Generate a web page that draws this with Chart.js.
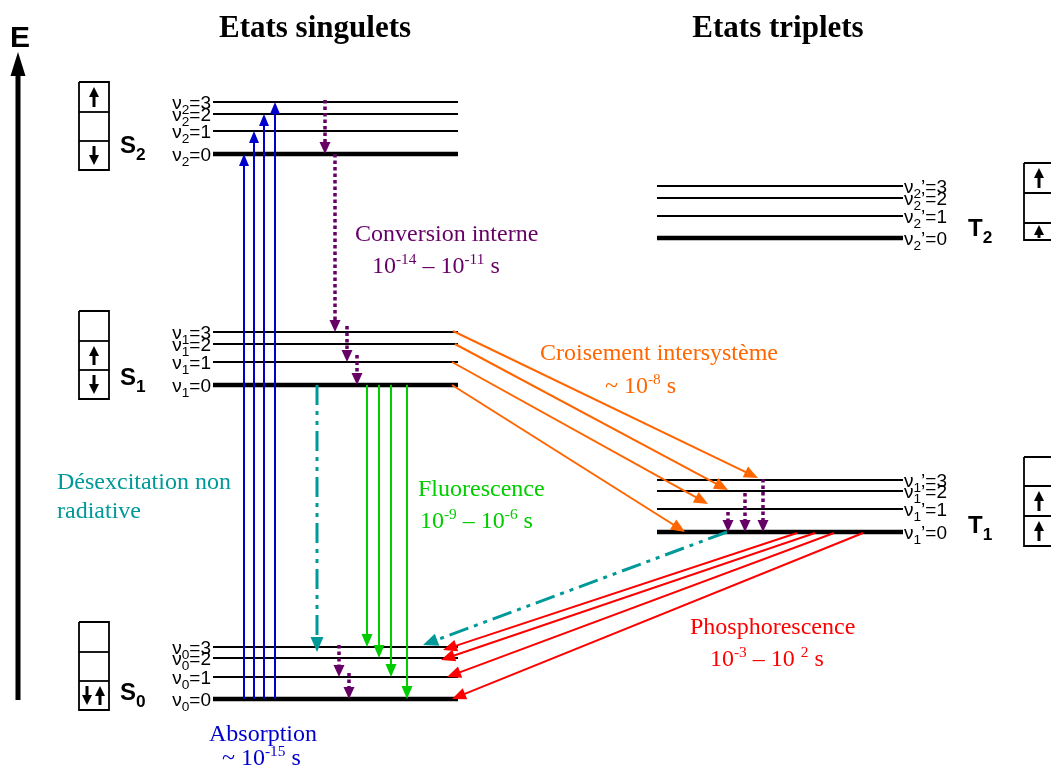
<!DOCTYPE html>
<html>
<head>
<meta charset="utf-8">
<script src="https://cdn.jsdelivr.net/npm/chart.js@4/dist/chart.umd.min.js"></script>
<style>
html, body { margin: 0; padding: 0; background: #fff; }
#wrap { width: 1051px; height: 771px; position: relative; }
</style>
</head>
<body>
<div id="wrap"><canvas id="jablonski"></canvas></div>
<script>
// energy scale: arbitrary units, 0 at bottom of picture
// levels are v = 0, 1, 2, 3
const singletX = [213, 458]
const tripletX = [657, 903]
const levelsS0 = [72, 94, 113, 124]
const levelsS1 = [386, 409, 427, 439]
const levelsS2 = [617, 640, 657, 669]
const levelsT1 = [239, 262, 280, 291]
const levelsT2 = [533, 555, 573, 585]

// S0 v=0 -> S2 v=0..3
const absorptionX = [244, 254, 264, 275]
// S1 v=0 -> S0 v=0..3
const fluorescenceX = [407, 391, 379, 367]
// internal conversion: x, from, to
const internalConv = [
	[325, 671, 617], [335, 617, 439], [347, 445, 409], [357, 416, 386],
	[339, 126, 94], [349, 98, 72],
	[728, 259, 239], [745, 278, 239], [763, 292, 239],
]
// intersystem crossing S1 -> T1
const iscFrom = [[453, 440], [455, 427], [452, 409], [452, 386]]
const iscTo = [[758, 293], [728, 281], [708, 267], [685, 239]]
// phosphorescence T1 v=0 -> S0
const phosFromX = [797, 815, 834, 863]
const phosTo = [[443, 121], [441, 111], [447, 94], [452, 72]]
// non radiative deexcitation
const nonRadFrom = [[317, 386], [727, 239]]
const nonRadTo = [[317, 119], [423, 126]]

// electron boxes: x range, cell edges (top -> bottom), spins per cell
const boxes = [
	{ x: [79, 109], edges: [689, 659, 630, 601], spins: ['up', '', 'down'] },
	{ x: [79, 109], edges: [460, 430, 401, 372], spins: ['', 'up', 'down'] },
	{ x: [79, 109], edges: [149, 119, 90, 61], spins: ['', '', 'updown'] },
	{ x: [1024, 1070], edges: [608, 578, 548, 531], spins: ['up', '', 'up'] },
	{ x: [1024, 1070], edges: [314, 285, 255, 225], spins: ['', 'up', 'up'] },
]

const C_BLUE = '#0000cc'
const C_PURPLE = '#660066'
const C_ORANGE = '#ff6600'
const C_GREEN = '#00cc00'
const C_RED = '#ff0000'
const C_TEAL = '#009999'
const SERIF = '"Liberation Serif", "Times New Roman", serif'
const SANS = '"Liberation Sans", Arial, sans-serif'

function line(pts, color, width, extra) {
	return Object.assign({
		data: pts.map(p => ({ x: p[0], y: p[1] })),
		showLine: true,
		borderColor: color,
		backgroundColor: color,
		borderWidth: width,
		pointRadius: 0,
		pointHoverRadius: 0,
		fill: false,
		tension: 0,
	}, extra || {})
}

const datasets = []

// energy axis
datasets.push(line([[18, 71], [18, 719]], '#000', 5, { head: [24, 15] }))

// transitions
absorptionX.forEach((x, i) => {
	datasets.push(line([[x, levelsS0[0]], [x, levelsS2[i]]], C_BLUE, 2, { head: [12, 10] }))
})
fluorescenceX.forEach((x, i) => {
	datasets.push(line([[x, levelsS1[0]], [x, levelsS0[i]]], C_GREEN, 2, { head: [13, 11] }))
})
internalConv.forEach(t => {
	datasets.push(line([[t[0], t[1]], [t[0], t[2]]], C_PURPLE, 3.5, { borderDash: [3.5, 3], head: [12, 11] }))
})
iscFrom.forEach((p, i) => {
	datasets.push(line([p, iscTo[i]], C_ORANGE, 2, { head: [14, 12] }))
})
phosFromX.forEach((x, i) => {
	datasets.push(line([[x, levelsT1[0] - 1], phosTo[i]], C_RED, 2, { head: [14, 12] }))
})
nonRadFrom.forEach((p, i) => {
	datasets.push(line([p, nonRadTo[i]], C_TEAL, 3, { borderDash: [20, 6, 4, 6, 4, 6], head: [15, 13] }))
})

// electron boxes
boxes.forEach(b => {
	const [x0, x1] = b.x
	const top = b.edges[0], bot = b.edges[b.edges.length - 1]
	datasets.push(line([[x0, top], [x1, top], [x1, bot], [x0, bot], [x0, top]], '#000', 1.8, { order: 5 }))
	b.edges.slice(1, -1).forEach(e => datasets.push(line([[x0, e], [x1, e]], '#000', 1.8, { order: 5 })))
	const cx = x0 + 15
	b.spins.forEach((s, k) => {
		const m = Math.min(5, (b.edges[k] - b.edges[k + 1] - 13) / 2)
		const hi = b.edges[k] - m, lo = b.edges[k + 1] + m
		const head = { head: [10, 10] }
		if (s === 'up') datasets.push(line([[cx, lo], [cx, hi]], '#000', 3, head))
		if (s === 'down') datasets.push(line([[cx, hi], [cx, lo]], '#000', 3, head))
		if (s === 'updown') {
			datasets.push(line([[cx - 7, hi], [cx - 7, lo]], '#000', 3, head))
			datasets.push(line([[cx + 6, lo], [cx + 6, hi]], '#000', 3, head))
		}
	})
})

// energy levels (drawn underneath)
const levelSets = [
	{ lv: levelsS2, x: singletX, n: '2', prime: '' },
	{ lv: levelsS1, x: singletX, n: '1', prime: '' },
	{ lv: levelsS0, x: singletX, n: '0', prime: '' },
	{ lv: levelsT2, x: tripletX, n: '2', prime: '’' },
	{ lv: levelsT1, x: tripletX, n: '1', prime: '’' },
]
levelSets.forEach(s => {
	s.lv.forEach((e, v) => {
		datasets.push(line([[s.x[0], e], [s.x[1], e]], '#000', v === 0 ? 4.5 : 1.8, { order: 10 }))
	})
})

// text
const texts = [
	{ t: 'E', x: 10, y: 724, f: SANS, size: 30, w: 'bold', c: '#000' },
	{ t: 'Etats singulets', x: 315, y: 734, f: SERIF, size: 31, w: 'bold', c: '#000', align: 'center' },
	{ t: 'Etats triplets', x: 778, y: 734, f: SERIF, size: 31, w: 'bold', c: '#000', align: 'center' },
	{ t: 'S_{2}', x: 120, y: 618, f: SANS, size: 24, w: 'bold', c: '#000' },
	{ t: 'S_{1}', x: 120, y: 386, f: SANS, size: 24, w: 'bold', c: '#000' },
	{ t: 'S_{0}', x: 120, y: 71, f: SANS, size: 24, w: 'bold', c: '#000' },
	{ t: 'T_{2}', x: 968, y: 535, f: SANS, size: 24, w: 'bold', c: '#000' },
	{ t: 'T_{1}', x: 968, y: 238, f: SANS, size: 24, w: 'bold', c: '#000' },
	{ t: 'Conversion interne', x: 355, y: 530, f: SERIF, size: 24, c: C_PURPLE },
	{ t: '10^{-14} – 10^{-11} s', x: 372, y: 498, f: SERIF, size: 24, c: C_PURPLE },
	{ t: 'Croisement intersystème', x: 540, y: 411, f: SERIF, size: 24, c: C_ORANGE },
	{ t: '~ 10^{-8} s', x: 605, y: 378, f: SERIF, size: 24, c: C_ORANGE },
	{ t: 'Désexcitation non', x: 57, y: 282, f: SERIF, size: 24, c: C_TEAL },
	{ t: 'radiative', x: 57, y: 253, f: SERIF, size: 24, c: C_TEAL },
	{ t: 'Fluorescence', x: 418, y: 275, f: SERIF, size: 24, c: C_GREEN },
	{ t: '10^{-9} – 10^{-6} s', x: 420, y: 243, f: SERIF, size: 24, c: C_GREEN },
	{ t: 'Phosphorescence', x: 690, y: 137, f: SERIF, size: 24, c: C_RED },
	{ t: '10^{-3} – 10 ^{2} s', x: 710, y: 105, f: SERIF, size: 24, c: C_RED },
	{ t: 'Absorption', x: 209, y: 30, f: SERIF, size: 24, c: C_BLUE },
	{ t: '~ 10^{-15} s', x: 222, y: 6, f: SERIF, size: 24, c: C_BLUE },
]
levelSets.forEach(s => {
	const right = s.x === singletX
	s.lv.forEach((e, v) => {
		texts.push({
			t: 'ν_{' + s.n + '}' + s.prime + '=' + v,
			x: right ? 211 : 904, y: e - 6.5, f: SANS, size: 19, c: '#000',
			align: right ? 'right' : 'left',
		})
	})
})

function drawRich(ctx, o, px, py) {
	const parts = o.t.split(/(\^\{[^}]*\}|_\{[^}]*\})/).filter(Boolean)
	const pieces = parts.map(p => {
		if (p.startsWith('^{')) return { t: p.slice(2, -1), s: o.size * 0.64, dy: -o.size * 0.38 }
		if (p.startsWith('_{')) return { t: p.slice(2, -1), s: o.size * 0.72, dy: o.size * 0.3 }
		return { t: p, s: o.size, dy: 0 }
	})
	let total = 0
	pieces.forEach(p => {
		ctx.font = `${o.w || 'normal'} ${p.s}px ${o.f}`
		p.width = ctx.measureText(p.t).width
		total += p.width
	})
	let cx = px
	if (o.align === 'right') cx = px - total
	if (o.align === 'center') cx = px - total / 2
	ctx.fillStyle = o.c
	ctx.textBaseline = 'alphabetic'
	ctx.textAlign = 'left'
	pieces.forEach(p => {
		ctx.font = `${o.w || 'normal'} ${p.s}px ${o.f}`
		ctx.fillText(p.t, cx, py + p.dy)
		cx += p.width
	})
}

const arrowHeads = {
	id: 'arrowHeads',
	afterDatasetsUpdate(chart) {
		chart.data.datasets.forEach((ds, i) => {
			if (!ds.head) return
			const pts = chart.getDatasetMeta(i).data
			const a = pts[pts.length - 2], b = pts[pts.length - 1]
			const ang = Math.atan2(b.y - a.y, b.x - a.x)
			ds._tip = { x: b.x, y: b.y, ang }
			// stop the shaft inside the head
			b.x -= Math.cos(ang) * ds.head[0] * 0.6
			b.y -= Math.sin(ang) * ds.head[0] * 0.6
		})
	},
	afterDatasetsDraw(chart) {
		const ctx = chart.ctx
		chart.data.datasets.forEach(ds => {
			if (!ds._tip) return
			const { x, y, ang } = ds._tip
			const [len, wid] = ds.head
			ctx.save()
			ctx.translate(x, y)
			ctx.rotate(ang)
			ctx.beginPath()
			ctx.moveTo(0, 0)
			ctx.lineTo(-len, -wid / 2)
			ctx.lineTo(-len, wid / 2)
			ctx.closePath()
			ctx.fillStyle = ds.borderColor
			ctx.fill()
			ctx.restore()
		})
	},
}

const labels = {
	id: 'labels',
	afterDraw(chart) {
		const ctx = chart.ctx
		const xs = chart.scales.x, ys = chart.scales.y
		ctx.save()
		texts.forEach(o => drawRich(ctx, o, xs.getPixelForValue(o.x), ys.getPixelForValue(o.y)))
		ctx.restore()
	},
}

new Chart(document.getElementById('jablonski'), {
	type: 'scatter',
	data: { datasets },
	options: {
		responsive: true,
		maintainAspectRatio: false,
		animation: false,
		events: [],
		layout: { padding: 0 },
		scales: {
			x: { type: 'linear', min: 0, max: 1051, display: false },
			y: { type: 'linear', min: 0, max: 771, display: false },
		},
		plugins: { legend: { display: false }, tooltip: { enabled: false } },
	},
	plugins: [arrowHeads, labels],
})
</script>
</body>
</html>
